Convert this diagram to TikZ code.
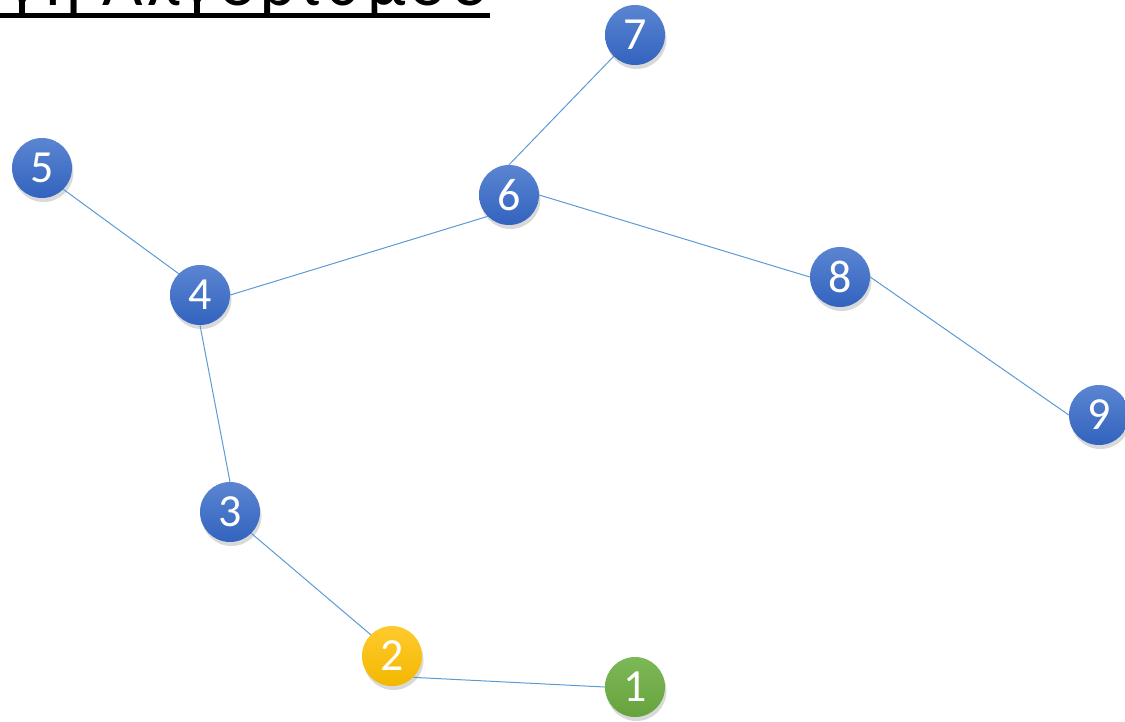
\documentclass[tikz,border=0pt]{standalone}
\usepackage{fontspec}
\setmainfont{Carlito}
\newfontfamily\headfont[LetterSpace=7]{Carlito}
\usepackage{tikz}
\usetikzlibrary{shadows}

\definecolor{bluetop}{HTML}{5B85D2}
\definecolor{bluebot}{HTML}{3263BE}
\definecolor{goldtop}{HTML}{FFCA2E}
\definecolor{goldbot}{HTML}{F2B800}
\definecolor{greentop}{HTML}{7DB857}
\definecolor{greenbot}{HTML}{66A33D}
\definecolor{edgeblue}{HTML}{5B9BD5}

\begin{document}
\begin{tikzpicture}[x=1pt, y=-1pt,
    vertex/.style={circle, minimum size=60pt, inner sep=0pt, text=white,
        font=\fontsize{46}{46}\selectfont,
        drop shadow={shadow xshift=1.5pt, shadow yshift=-4pt, opacity=0.3}},
    bluev/.style={vertex, top color=bluetop, bottom color=bluebot},
    goldv/.style={vertex, top color=goldtop, bottom color=goldbot},
    greenv/.style={vertex, top color=greentop, bottom color=greenbot},
    link/.style={draw=edgeblue, line width=1pt}]
    % Page frame
    \useasboundingbox (0,0) rectangle (1125,721);
    \clip (0,0) rectangle (1125,721);
    % Title (cut at the top)
    \node[anchor=base east, inner sep=0pt, font=\headfont\fontsize{70}{70}\selectfont] (title) at (490,5) {Εφαρμογή Αλγορίθμου};
    \draw[line width=5pt] ([yshift=-10.5pt]title.base west) -- ([yshift=-10.5pt]title.base east);
    % Vertices
    \node[greenv] (n1) at (635,687) {1};
    \node[goldv]  (n2) at (392,656) {2};
    \node[bluev]  (n3) at (230,512) {3};
    \node[bluev]  (n4) at (200,295) {4};
    \node[bluev]  (n5) at (42,168)  {5};
    \node[bluev]  (n6) at (509,195) {6};
    \node[bluev]  (n7) at (635,35)  {7};
    \node[bluev]  (n8) at (840,277) {8};
    \node[bluev]  (n9) at (1099,415) {9};
    % Edges (attached at the circles' connection points)
    \draw[link] (n5.south east) -- (n4.north west);
    \draw[link] (n4.east) -- (n6.south west);
    \draw[link] (n6.north) -- (n7.south west);
    \draw[link] (n6.east) -- (n8.west);
    \draw[link] (n8.east) -- (n9.west);
    \draw[link] (n4.south) -- (n3.north);
    \draw[link] (n3.south east) -- (n2.north west);
    \draw[link] (n2.south east) -- (n1.west);
\end{tikzpicture}
\end{document}
